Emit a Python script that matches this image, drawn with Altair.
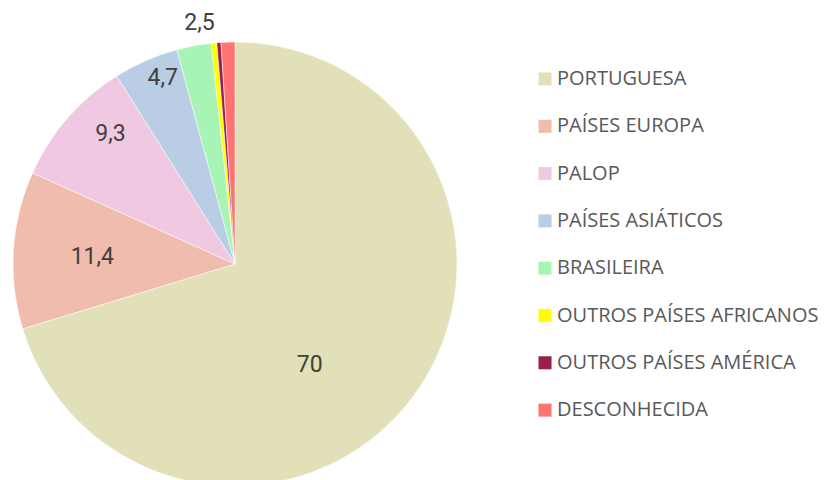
import altair as alt
import pandas as pd

categories = ["PORTUGUESA", "PAÍSES EUROPA", "PALOP", "PAÍSES ASIÁTICOS",
              "BRASILEIRA", "OUTROS PAÍSES AFRICANOS", "OUTROS PAÍSES AMÉRICA", "DESCONHECIDA"]
values = [70.0, 11.4, 9.3, 4.7, 2.5, 0.4, 0.3, 1.0]
labels = ["70", "11,4", "9,3", "4,7", "2,5", "", "", ""]
colors = ["#E2E0B8", "#F0BCAE", "#F0C8E2", "#B9CDE4", "#A8F4B4", "#FFFF00", "#99204C", "#FF7373"]

df = pd.DataFrame({"cat": categories, "value": values, "label": labels,
                   "idx": list(range(len(categories)))})

CX, CY, R = 227, 256, 222

color = alt.Color("cat:N", sort=categories,
                  scale=alt.Scale(domain=categories, range=colors),
                  legend=alt.Legend(title=None, orient="none", legendX=527, legendY=61,
                                    symbolType="square", symbolSize=170, symbolStrokeWidth=0,
                                    labelFont="Open Sans", labelFontSize=20, labelColor="#595959",
                                    labelOffset=2, rowPadding=27.3, labelLimit=400))

base = alt.Chart(df)
pie = base.mark_arc(outerRadius=R, stroke="white", strokeWidth=0.5).encode(
    theta=alt.Theta("value:Q", stack=True),
    order=alt.Order("idx:Q"),
    color=color,
    x=alt.value(CX), y=alt.value(CY),
)

label_cfg = {
    "PORTUGUESA": (124, -25, 27),
    "PAÍSES EUROPA": (143, 0, 2),
    "PALOP": (181, 12, -11),
    "PAÍSES ASIÁTICOS": (200, 8, -3),
    "BRASILEIRA": (246, 10, 1),
}

layers = [pie]
for cat, (r, dx, dy) in label_cfg.items():
    layers.append(
        base.transform_calculate(t=f"datum.cat == '{cat}' ? datum.label : ''")
        .mark_text(radius=r, dx=dx, dy=dy, font="Roboto",
                   fontSize=23, color="#404040", align="center", baseline="middle")
        .encode(theta=alt.Theta("value:Q", stack=True), order=alt.Order("idx:Q"),
                text="t:N", x=alt.value(CX), y=alt.value(CY))
    )

chart = alt.layer(*layers).properties(
    width=815, height=472, autosize=alt.AutoSizeParams(type="none"), padding=0
).configure_view(stroke=None)

chart.save("out.html", embed_options={"renderer": "svg", "actions": False})
